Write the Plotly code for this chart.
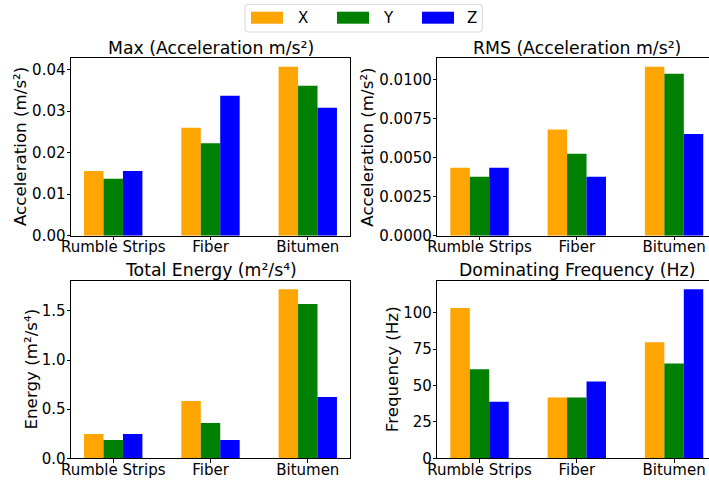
import plotly.graph_objects as go

# ---------------- data ----------------
categories = ["Rumble Strips", "Fiber", "Bitumen"]
series_names = ["X", "Y", "Z"]

max_x = [0.0156, 0.0260, 0.0407]
max_y = [0.0137, 0.0223, 0.0361]
max_z = [0.0156, 0.0337, 0.0308]

rms_x = [0.00436, 0.00680, 0.01083]
rms_y = [0.00378, 0.00526, 0.01038]
rms_z = [0.00436, 0.00378, 0.00652]

energy_x = [0.247, 0.583, 1.722]
energy_y = [0.186, 0.359, 1.571]
energy_z = [0.247, 0.186, 0.624]

freq_x = [103.2, 41.7, 79.7]
freq_y = [61.1, 41.7, 65.2]
freq_z = [38.9, 52.8, 116.2]

titles = ["Max (Acceleration m/s²)", "RMS (Acceleration m/s²)",
          "Total Energy (m²/s⁴)", "Dominating Frequency (Hz)"]
ylabels = ["Acceleration (m/s²)", "Acceleration (m/s²)",
           "Energy (m²/s⁴)", "Frequency (Hz)"]
yticks_max = [0.00, 0.01, 0.02, 0.03, 0.04]
yticks_rms = [0.0, 0.0025, 0.0050, 0.0075, 0.0100]
yticks_energy = [0.0, 0.5, 1.0, 1.5]
yticks_freq = [0, 25, 50, 75, 100]

# ---------------- styling ----------------
W, H = 709, 481
FONT = "DejaVu Sans"
colors = ["#FFA500", "#008000", "#0000FF"]
TICK_SIZE = 15.0


def px(xp):
    return xp / W


def py(yp):
    return 1 - yp / H


panels = [
    dict(data=[max_x, max_y, max_z], yt=yticks_max, fmt=".2f",
         x0=71, x1=350, y0=58.3, y1=235.7, right_clip=False),
    dict(data=[rms_x, rms_y, rms_z], yt=yticks_rms, fmt=".4f",
         x0=437.3, x1=716.3, y0=58.3, y1=235.7, right_clip=True),
    dict(data=[energy_x, energy_y, energy_z], yt=yticks_energy, fmt=".1f",
         x0=71, x1=350, y0=280.7, y1=458.3, right_clip=False),
    dict(data=[freq_x, freq_y, freq_z], yt=yticks_freq, fmt="d",
         x0=437.3, x1=716.3, y0=280.7, y1=458.3, right_clip=True),
]

fig = go.Figure()
layout = dict(
    width=W, height=H, autosize=False,
    margin=dict(l=0, r=0, t=0, b=0, autoexpand=False),
    paper_bgcolor="white", plot_bgcolor="white",
    font=dict(family=FONT, size=TICK_SIZE, color="black"),
    barmode="group", bargap=0.4, bargroupgap=0.0,
    showlegend=False,
)

annotations = []
shapes = []

XMIN, XMAX = -0.434, 2.434
for i, p in enumerate(panels):
    n = "" if i == 0 else str(i + 1)
    for j, (vals, name) in enumerate(zip(p["data"], series_names)):
        fig.add_trace(go.Bar(
            x=categories, y=vals, name=name,
            marker=dict(color=colors[j], line=dict(width=0)),
            xaxis="x" + n, yaxis="y" + n, offsetgroup=str(j),
            showlegend=False,
        ))
    full_w = p["x1"] - p["x0"]
    visible_x1 = min(p["x1"], W)
    unit = full_w / (XMAX - XMIN)
    xmax_vis = XMIN + (visible_x1 - p["x0"]) / unit
    ymax = max(max(s) for s in p["data"]) * 1.05
    layout["xaxis" + n] = dict(
        domain=[px(p["x0"]), px(visible_x1)], anchor="y" + n,
        type="category", range=[XMIN, xmax_vis], automargin=False,
        showline=True, linecolor="black", linewidth=1,
        mirror=True, ticks="outside", ticklen=3.5, tickwidth=1,
        tickcolor="black", showgrid=False, zeroline=False,
        ticklabelstandoff=-6,
        tickfont=dict(family=FONT, size=TICK_SIZE, color="black"),
    )
    layout["yaxis" + n] = dict(
        domain=[py(p["y1"]), py(p["y0"])], anchor="x" + n,
        range=[0, ymax], tickvals=p["yt"], tickformat=p["fmt"],
        automargin=False,
        showline=True, linecolor="black", linewidth=1,
        mirror=not p["right_clip"], ticks="outside", ticklen=3.5,
        tickwidth=1, tickcolor="black", showgrid=False, zeroline=False,
        ticklabelstandoff=-2,
        tickfont=dict(family=FONT, size=TICK_SIZE, color="black"),
    )
    # subplot title
    annotations.append(dict(
        text=titles[i], xref="paper", yref="paper",
        x=px((p["x0"] + p["x1"]) / 2), y=py(p["y0"] - 10.5),
        xanchor="center", yanchor="middle", showarrow=False,
        font=dict(family=FONT, size=17.3, color="black"),
    ))

# y axis labels
ylab_x = [20, 366.7, 30, 391.7]
for i, p in enumerate(panels):
    annotations.append(dict(
        text=ylabels[i], xref="paper", yref="paper",
        x=px(ylab_x[i]), y=py((p["y0"] + p["y1"]) / 2),
        xanchor="center", yanchor="middle", textangle=-90,
        showarrow=False, font=dict(family=FONT, size=16.7, color="black"),
    ))

# legend (box, patches, labels)
lx0, lx1, ly0, ly1, r = 245, 482.3, 4.3, 32, 3
path = (f"M {px(lx0 + r)},{py(ly0)} L {px(lx1 - r)},{py(ly0)} "
        f"Q {px(lx1)},{py(ly0)} {px(lx1)},{py(ly0 + r)} "
        f"L {px(lx1)},{py(ly1 - r)} Q {px(lx1)},{py(ly1)} {px(lx1 - r)},{py(ly1)} "
        f"L {px(lx0 + r)},{py(ly1)} Q {px(lx0)},{py(ly1)} {px(lx0)},{py(ly1 - r)} "
        f"L {px(lx0)},{py(ly0 + r)} Q {px(lx0)},{py(ly0)} {px(lx0 + r)},{py(ly0)} Z")
shapes.append(dict(type="path", xref="paper", yref="paper", path=path,
                   line=dict(color="#d6d6d6", width=1), fillcolor="white",
                   layer="above"))
patch_x = [251, 337, 422]
text_x = [295.5, 380.5, 464.5]
for j, name in enumerate(series_names):
    shapes.append(dict(type="rect", xref="paper", yref="paper",
                       x0=px(patch_x[j]), x1=px(patch_x[j] + 32),
                       y0=py(23.7), y1=py(11.7),
                       line=dict(width=0), fillcolor=colors[j], layer="above"))
    annotations.append(dict(
        text=name, xref="paper", yref="paper", x=px(text_x[j]), y=py(18),
        xanchor="left", yanchor="middle", showarrow=False,
        font=dict(family=FONT, size=TICK_SIZE, color="black"),
    ))

layout["annotations"] = annotations
layout["shapes"] = shapes
fig.update_layout(**layout)
fig.write_html("out.html")
